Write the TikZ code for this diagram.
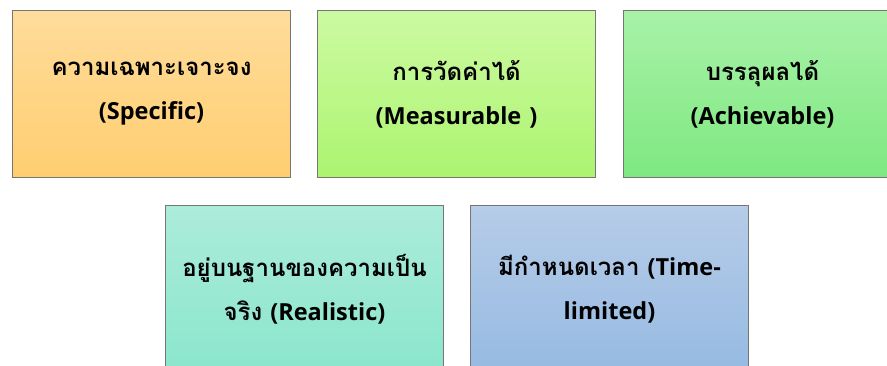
\documentclass[tikz,border=0pt]{standalone}
\usepackage{fontspec}
\newfontfamily\thaifont[Script=Thai]{Loma}
\newfontfamily\latfont{Open Sans}
\newcommand{\lt}[1]{{\latfont\bfseries\fontsize{23.5}{44}\selectfont #1}}
\definecolor{bordergray}{RGB}{118,118,118}
\definecolor{oT}{RGB}{255,220,155}
\definecolor{oB}{RGB}{255,206,112}
\definecolor{gT}{RGB}{204,250,162}
\definecolor{gB}{RGB}{172,244,112}
\definecolor{aT}{RGB}{168,242,168}
\definecolor{aB}{RGB}{126,232,128}
\definecolor{tT}{RGB}{172,236,218}
\definecolor{tB}{RGB}{138,230,204}
\definecolor{bT}{RGB}{182,204,232}
\definecolor{bB}{RGB}{150,186,226}
\tikzset{
  smartbox/.style={draw=bordergray, line width=1pt, rectangle, minimum width=278pt, minimum height=167pt,
    anchor=north west, inner sep=0pt, align=center, text width=270pt,
    font=\thaifont\bfseries\fontsize{24}{44}\selectfont},
}
\begin{document}
\begin{tikzpicture}[x=1pt,y=-1pt]
\useasboundingbox (0,0) rectangle (887,365);
\node[smartbox, top color=oT, bottom color=oB] (spec) at (12,10) {ความเฉพาะเจาะจง\\\lt{(Specific)}};
\node[smartbox, top color=gT, bottom color=gB] (meas) at (317,10) {การวัดค่าได้\\\lt{(Measurable )}};
\node[smartbox, top color=aT, bottom color=aB] (achi) at (623,10) {บรรลุผลได้\\\lt{(Achievable)}};
\node[smartbox, top color=tT, bottom color=tB] (real) at (165,205) {อยู่บนฐานของความเป็น\\จริง \lt{(Realistic)}};
\node[smartbox, top color=bT, bottom color=bB] (time) at (470,205) {มีกำหนดเวลา \lt{(Time-}\\\lt{limited)}};
\end{tikzpicture}
\end{document}
